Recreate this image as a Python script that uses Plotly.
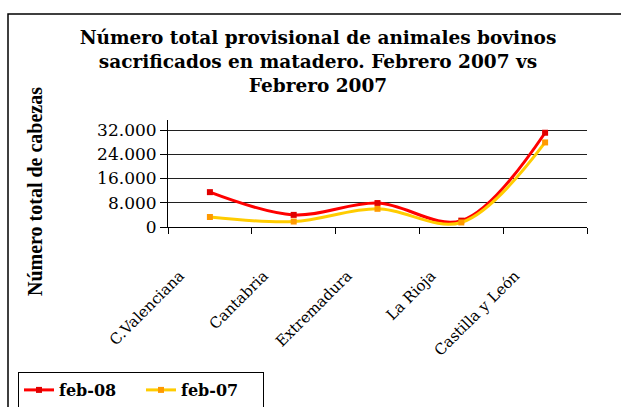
import plotly.graph_objects as go

categories = ["C.Valenciana", "Cantabria", "Extremadura", "La Rioja", "Castilla y León"]
feb08 = [11500, 4000, 7900, 2100, 31100]
feb07 = [3300, 1800, 6000, 1500, 27900]
yticks = [0, 8000, 16000, 24000, 32000]

W, H = 621, 407
L, R, T, B = 168, 587, 120, 227  # plot area pixels
pw, ph = R - L, B - T

def px(x):
    return (x - L) / pw

def py(y):
    return (B - y) / ph

fig = go.Figure()
fig.add_trace(go.Scatter(
    x=categories, y=feb08, name="feb-08", mode="lines+markers",
    line=dict(color="#FF0000", width=3, shape="spline", smoothing=1),
    marker=dict(symbol="square", size=6, color="#E00000"),
))
fig.add_trace(go.Scatter(
    x=categories, y=feb07, name="feb-07", mode="lines+markers",
    line=dict(color="#FFCC00", width=3, shape="spline", smoothing=1),
    marker=dict(symbol="square", size=6, color="#FF9900"),
))

fig.update_layout(
    width=W, height=H,
    margin=dict(l=L, r=W - R, t=T, b=H - B, autoexpand=False),
    paper_bgcolor="white", plot_bgcolor="white",
    separators=",.",
    title=dict(
        text="Número total provisional de animales bovinos<br>sacrificados en matadero. Febrero 2007 vs<br>Febrero 2007",
        x=318 / W, xanchor="center", y=1 - 44 / H, yanchor="top",
        font=dict(family="DejaVu Serif", size=18.5, color="black", weight="bold"),
    ),
    xaxis=dict(
        type="category", showgrid=False, showline=True, linecolor="black", linewidth=1,
        ticks="outside", tickson="boundaries", ticklen=6, tickcolor="black",
        tickangle=-45, tickfont=dict(family="DejaVu Serif", size=15, color="black"),
        ticklabelshift=-30, ticklabelstandoff=33,
        range=[-0.5, 4.5],
    ),
    yaxis=dict(
        range=[0, 35300], tickvals=yticks, tickformat=",d",
        showgrid=True, gridcolor="#202020", gridwidth=1,
        showline=True, linecolor="black", linewidth=1,
        ticks="outside", ticklen=7, tickcolor="black",
        tickfont=dict(family="DejaVu Serif", size=17, color="black"),
        zeroline=False,
    ),
    showlegend=True,
    legend=dict(
        orientation="h", x=px(18), xanchor="left", y=py(372), yanchor="top",
        bordercolor="black", borderwidth=1, bgcolor="white",
        font=dict(family="DejaVu Serif", size=16, color="black", weight="bold"),
        itemwidth=30, entrywidth=77, entrywidthmode="pixels",
    ),
    annotations=[dict(
        text="Número total de cabezas", textangle=-90,
        xref="paper", yref="paper", x=px(35), y=py(192), xanchor="center", yanchor="middle",
        showarrow=False,
        font=dict(family="Liberation Serif", size=20, color="black", weight="bold"),
    )],
    shapes=[dict(
        type="rect", xref="paper", yref="paper",
        x0=px(8), x1=px(660), y0=py(14), y1=py(440),
        line=dict(color="black", width=1.5), fillcolor="rgba(0,0,0,0)", layer="below",
    )],
)

fig.write_html(
    "out.html",
    config={"displayModeBar": False},
    post_script="document.body.style.margin='0';document.body.style.overflow='hidden';",
)
